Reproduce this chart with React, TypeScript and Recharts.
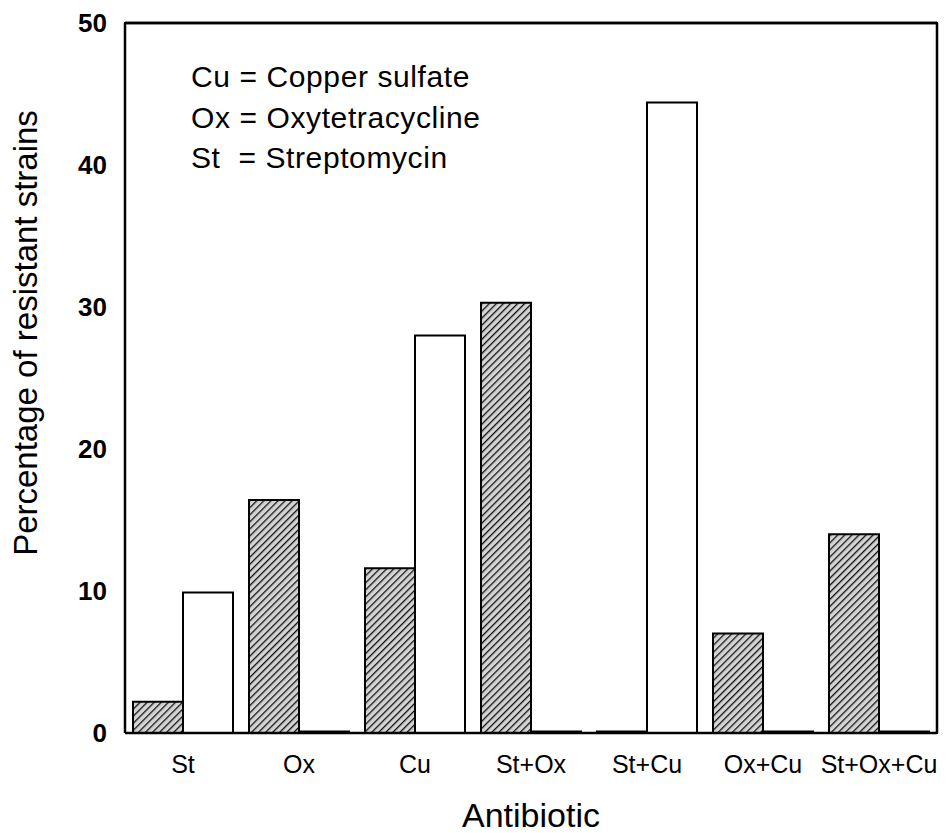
import React from 'react';
import * as R from 'recharts';
import { BarChart, Bar, XAxis, YAxis, Customized, ReferenceLine } from 'recharts';

const categories = ['St', 'Ox', 'Cu', 'St+Ox', 'St+Cu', 'Ox+Cu', 'St+Ox+Cu'];
const hatchedValues = [2.2, 16.4, 11.6, 30.3, 0.1, 7.0, 14.0];
const whiteValues = [9.9, 0.1, 28.0, 0.1, 44.4, 0.1, 0.1];
const yTicks = [0, 10, 20, 30, 40, 50];
const legendLines = ['Cu = Copper sulfate', 'Ox = Oxytetracycline', 'St  = Streptomycin'];
const xTitle = 'Antibiotic';
const yTitle = 'Percentage of resistant strains';

const data = categories.map((name, i) => ({ name, hatched: hatchedValues[i], white: whiteValues[i] }));

const FONT = '"Liberation Sans", Arial, Helvetica, sans-serif';
const W = 949;
const H = 833;
const M_TOP = 23;
const M_RIGHT = 12;
const Y_AXIS_W = 125;
const X_AXIS_H = 100;
const FRAME_W = 2.5;

const usePlotAreaHook: any = (R as any).usePlotArea;

const Titles = () => {
  const area = usePlotAreaHook ? usePlotAreaHook() : null;
  const x = area ? area.x : Y_AXIS_W;
  const y = area ? area.y : M_TOP;
  const w = area ? area.width : W - Y_AXIS_W - M_RIGHT;
  const h = area ? area.height : H - M_TOP - X_AXIS_H;
  const cy = y + h / 2 - 45;
  return (
    <g>
      <line x1={x} y1={y} x2={x + w} y2={y} stroke="#000" strokeWidth={FRAME_W} />
      <line x1={x + w} y1={y} x2={x + w} y2={y + h} stroke="#000" strokeWidth={FRAME_W} />
      <text x={x + w / 2} y={827} textAnchor="middle" fontFamily={FONT} fontSize={34} fill="#000">
        {xTitle}
      </text>
      <text x={37} y={cy} transform={`rotate(-90, 37, ${cy})`} textAnchor="middle" fontFamily={FONT} fontSize={33} fill="#000">
        {yTitle}
      </text>
    </g>
  );
};

const YTick = (props: any) => {
  const { x, y, payload } = props;
  return (
    <text x={x} y={y} dy="0.36em" textAnchor="end" fontFamily={FONT} fontSize={26} fontWeight="bold" fill="#000">
      {payload.value}
    </text>
  );
};

const XTick = (props: any) => {
  const { x, y, payload } = props;
  return (
    <text x={x} y={y} dy="0.71em" textAnchor="middle" fontFamily={FONT} fontSize={25} fill="#000">
      {payload.value}
    </text>
  );
};

const LegendText = () => (
  <g>
    {legendLines.map((t, i) => (
      <text key={t} x={191} y={87 + i * 40.5} fontFamily={FONT} fontSize={30} letterSpacing={0.6} fill="#000" style={{ whiteSpace: 'pre' }} xmlSpace="preserve">
        {t}
      </text>
    ))}
  </g>
);

export default function App() {
  const plotW = W - Y_AXIS_W - M_RIGHT;
  const plotH = H - M_TOP - X_AXIS_H;
  return (
    <div style={{ position: 'absolute', left: 0, top: 0, width: W, height: H, background: '#fff' }}>
      <svg width={0} height={0} style={{ position: 'absolute' }}>
        <defs>
          <pattern id="hatch" patternUnits="userSpaceOnUse" width={5} height={5} patternTransform="rotate(45)">
            <rect x={0} y={0} width={5} height={5} fill="#d4d4d4" />
            <line x1={0} y1={0} x2={0} y2={5} stroke="#111" strokeWidth={2.6} />
          </pattern>
        </defs>
      </svg>
      <BarChart
        width={W}
        height={H}
        data={data}
        margin={{ top: M_TOP, right: M_RIGHT, left: 0, bottom: 0 }}
        barGap={0}
        barSize={50}
      >
        <XAxis
          dataKey="name"
          height={X_AXIS_H}
          tickLine={false}
          tickMargin={16}
          axisLine={{ stroke: '#000', strokeWidth: FRAME_W }}
          tick={<XTick />}
          interval={0}
        />
        <YAxis
          width={Y_AXIS_W}
          domain={[0, 50]}
          ticks={yTicks}
          tickLine={false}
          tickMargin={12}
          axisLine={{ stroke: '#000', strokeWidth: FRAME_W }}
          tick={<YTick />}
        />
        <ReferenceLine y={50} stroke="#000" strokeWidth={FRAME_W} ifOverflow="extendDomain" />
        <Bar dataKey="hatched" fill="url(#hatch)" stroke="#000" strokeWidth={2} isAnimationActive={false} />
        <Bar dataKey="white" fill="#fff" stroke="#000" strokeWidth={2} isAnimationActive={false} />
        <Customized component={Titles} />
        <Customized component={LegendText} />
      </BarChart>
      <div
        style={{
          position: 'absolute',
          zIndex: 10,
          left: Y_AXIS_W - FRAME_W / 2,
          top: M_TOP - FRAME_W / 2,
          width: plotW,
          height: plotH,
          borderTop: `${FRAME_W}px solid #000`,
          borderRight: `${FRAME_W}px solid #000`,
          boxSizing: 'content-box',
          pointerEvents: 'none',
        }}
      />
    </div>
  );
}
